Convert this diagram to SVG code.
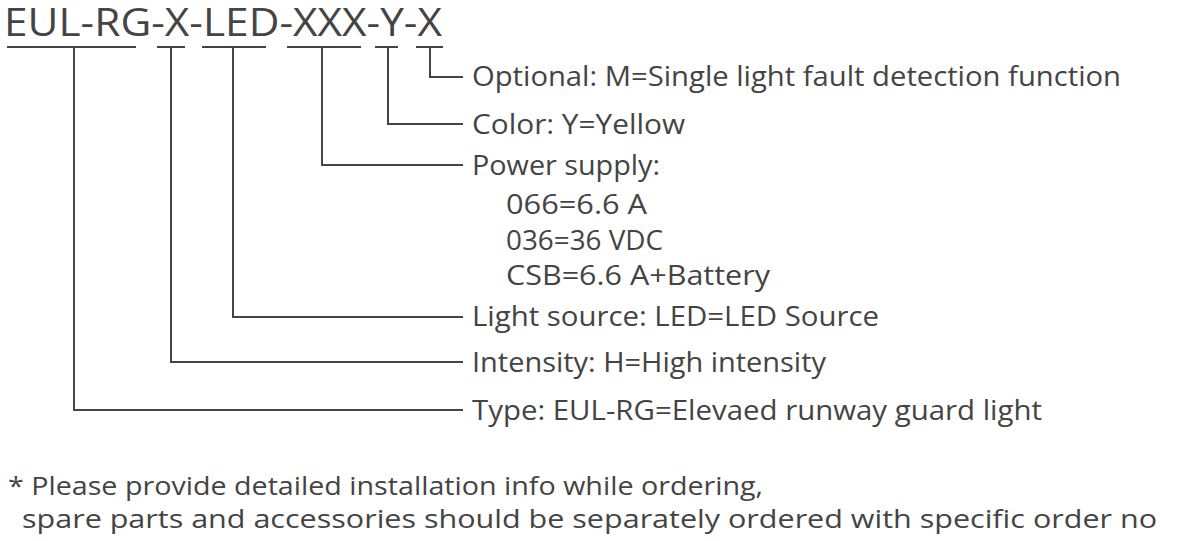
<svg xmlns="http://www.w3.org/2000/svg" width="1200" height="541" viewBox="0 0 1200 541">
<style>
text{font-family:"Open Sans","Noto Sans",sans-serif;fill:#444}
.t{font-size:38px}.l{font-size:27px}.f{font-size:25px}
line,polyline{stroke:#444;stroke-width:2;fill:none}
</style>
<rect width="1200" height="541" fill="#fff"/>
<g id="code"><text class="t" x="4" y="36" textLength="438" lengthAdjust="spacingAndGlyphs">EUL-RG-X-LED-XXX-Y-X</text></g>
<g id="connectors">
<line x1="7" y1="47" x2="136" y2="47"/><line x1="157" y1="47" x2="185" y2="47"/><line x1="202" y1="47" x2="266" y2="47"/><line x1="287" y1="47" x2="361" y2="47"/><line x1="375" y1="47" x2="398" y2="47"/><line x1="416" y1="47" x2="443" y2="47"/>
<polyline points="430,47 430,77 463,77"/>
<polyline points="388,47 388,124 463,124"/>
<polyline points="322,47 322,165 463,165"/>
<polyline points="233,47 233,317 463,317"/>
<polyline points="171,47 171,362 463,362"/>
<polyline points="74,47 74,410 463,410"/>
</g>
<g id="optional"><text class="l" x="472" y="86" textLength="649" lengthAdjust="spacingAndGlyphs">Optional: M=Single light fault detection function</text></g>
<g id="color"><text class="l" x="472" y="134" textLength="213" lengthAdjust="spacingAndGlyphs">Color: Y=Yellow</text></g>
<g id="power"><text class="l" x="472" y="175" textLength="188" lengthAdjust="spacingAndGlyphs">Power supply:</text><text class="l" x="506" y="214" textLength="141" lengthAdjust="spacingAndGlyphs">066=6.6 A</text><text class="l" x="506" y="250" textLength="157" lengthAdjust="spacingAndGlyphs">036=36 VDC</text><text class="l" x="506" y="285" textLength="264" lengthAdjust="spacingAndGlyphs">CSB=6.6 A+Battery</text></g>
<g id="light"><text class="l" x="472" y="326" textLength="407" lengthAdjust="spacingAndGlyphs">Light source: LED=LED Source</text></g>
<g id="intensity"><text class="l" x="472" y="372" textLength="354" lengthAdjust="spacingAndGlyphs">Intensity: H=High intensity</text></g>
<g id="type"><text class="l" x="472" y="420" textLength="570" lengthAdjust="spacingAndGlyphs">Type: EUL-RG=Elevaed runway guard light</text></g>
<g id="note"><text class="f" x="8" y="495" textLength="755" lengthAdjust="spacingAndGlyphs">* Please provide detailed installation info while ordering,</text><text class="f" x="22" y="528" textLength="1135" lengthAdjust="spacingAndGlyphs">spare parts and accessories should be separately ordered with specific order no</text></g>
</svg>
